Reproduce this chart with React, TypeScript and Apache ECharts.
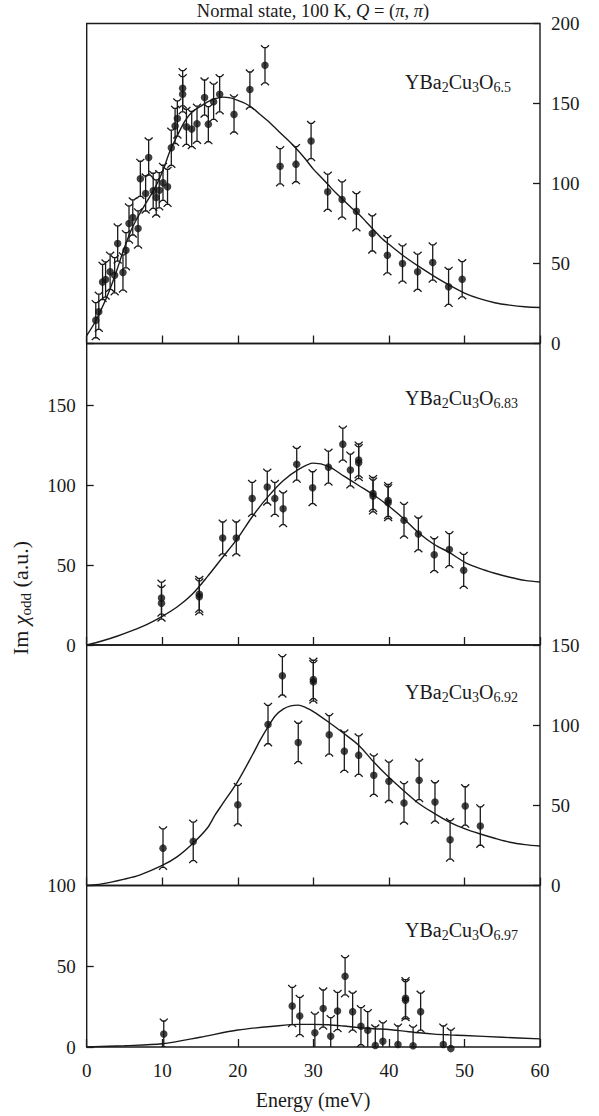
import React, { useEffect, useRef } from "react";
import * as echarts from "echarts";

const SERIF = "'Liberation Serif', 'DejaVu Serif', serif";
const INK = "#1a1a1a";

// Shared energy axis (meV)
const ENERGY_MIN = 0;
const ENERGY_MAX = 60;
const ENERGY_STEP = 10;

// ---------- YBa2Cu3O6.5 ----------
const o65Energy = [1.2, 1.6, 2.1, 2.5, 3.1, 3.7, 4.1, 4.8, 5.2, 5.6, 6.1, 6.8, 7.1, 7.8, 8.2, 8.8, 9.2, 9.6, 10.1, 10.7, 11.2, 11.7, 12.0, 12.7, 12.7, 13.2, 13.9, 14.6, 15.6, 16.1, 16.8, 17.6, 19.5, 21.6, 23.6, 25.6, 27.7, 29.7, 31.9, 33.8, 35.7, 37.8, 39.8, 41.8, 43.8, 45.8, 47.9, 49.7];
const o65Chi = [14.6, 19.8, 38.5, 40.0, 44.8, 42.7, 62.5, 44.4, 58.3, 75.0, 78.8, 71.9, 102.9, 93.8, 116.3, 95.4, 91.3, 95.8, 100.4, 97.9, 122.3, 136.0, 140.6, 155.8, 159.5, 135.4, 134.0, 137.3, 153.7, 137.1, 151.1, 155.8, 143.2, 158.7, 173.9, 110.8, 112.1, 126.6, 94.8, 90.0, 82.7, 68.8, 55.2, 50.0, 44.8, 50.6, 35.4, 40.2];
const o65Err = [11, 11, 11, 11, 11, 11, 11, 11, 11, 11, 11, 11, 11, 11, 11, 11, 11, 11, 11, 11, 11, 11, 11, 11, 11, 11, 11, 11, 11, 11, 11, 11, 11, 11, 11, 11, 11, 11, 11, 11, 11, 11, 11, 11, 11, 11, 11, 11];
const o65Fit = [[0, 5], [1, 12.5], [2, 22], [3, 33], [4, 46], [5, 60], [6, 72], [7, 81], [8, 89], [9, 97], [10, 107], [11, 120], [12, 130], [13, 139], [14, 145], [15, 148], [16, 151], [17, 153], [18, 154], [19, 153.5], [20, 152], [21, 150], [22, 147], [23, 143], [24, 139], [25, 134.5], [26, 130], [27, 125.5], [28, 120.5], [29, 115], [30, 109], [31, 104], [32, 99], [33, 94], [34, 89.5], [35, 85], [36, 81], [37, 76], [38, 71], [39, 66], [40, 62], [42, 54.5], [44, 48], [46, 42], [48, 36.5], [50, 31.5], [52, 28], [54, 25.5], [56, 24], [58, 23], [60, 22.5]];

// ---------- YBa2Cu3O6.83 ----------
const o683Energy = [9.9, 9.9, 14.9, 14.9, 18.0, 19.8, 21.9, 23.9, 24.9, 26.0, 27.8, 29.9, 32.0, 33.9, 34.9, 36.0, 36.0, 37.9, 37.9, 39.9, 39.9, 42.0, 43.9, 46.0, 48.0, 49.9];
const o683Chi = [29.4, 26.2, 31.8, 30.2, 67.1, 67.1, 91.9, 99.0, 91.9, 85.4, 113.3, 98.6, 111.5, 125.9, 109.7, 116.0, 114.3, 95.0, 93.4, 90.6, 89.2, 78.2, 69.6, 56.6, 59.8, 46.8];
const o683Err = [10, 10, 10, 10, 10, 10, 10, 10, 10, 10, 10, 10, 10, 10, 10, 10, 10, 10, 10, 10, 10, 10, 10, 10, 10, 10];
const o683Fit = [[0, 0], [2, 2.5], [4, 5.5], [6, 9], [8, 13], [10, 18], [12, 24], [14, 32], [16, 43], [18, 55], [20, 67], [22, 81], [24, 93], [26, 103], [28, 110], [30, 114], [32, 112], [34, 106], [36, 100], [38, 94], [40, 87], [42, 79], [44, 70], [46, 63], [48, 58], [50, 52], [52, 48], [54, 45], [56, 42.5], [58, 40.5], [60, 39.5]];

// ---------- YBa2Cu3O6.92 ----------
const o692Energy = [10.1, 14.1, 20.0, 24.0, 25.9, 28.0, 30.0, 30.0, 32.1, 34.1, 36.0, 38.0, 40.0, 42.0, 44.0, 46.1, 48.1, 50.1, 52.1];
const o692Chi = [23.3, 27.5, 50.4, 100.4, 130.8, 89.2, 128.5, 127.0, 94.0, 83.8, 81.3, 68.8, 65.0, 51.5, 65.6, 52.1, 28.5, 49.6, 37.1];
const o692Err = [12, 12, 12, 12, 12, 12, 12, 12, 12, 12, 12, 12, 12, 12, 12, 12, 12, 12, 12];
const o692Fit = [[0, 0], [2, 1], [5, 4], [7, 6.5], [10, 12.5], [12, 18], [14, 26], [16, 36], [17, 44], [18, 51], [20, 65], [22, 82], [23, 91], [24, 99], [25, 106], [26, 110], [27, 112], [28, 112.5], [29, 111], [30, 108.5], [32, 102], [34, 95], [36, 87.5], [38, 77], [40, 67.5], [42, 59], [44, 51], [46, 45], [48, 39.6], [50, 35.5], [52, 32.3], [54, 29.5], [56, 27], [58, 25.5], [60, 24.6]];

// ---------- YBa2Cu3O6.97 ----------
const o697Energy = [10.2, 27.2, 28.2, 30.2, 31.3, 32.3, 33.2, 34.2, 35.2, 36.3, 37.2, 38.2, 39.2, 41.2, 42.2, 42.2, 43.2, 44.2, 47.2, 48.2];
const o697Chi = [8.1, 25.4, 19.2, 8.8, 23.8, 6.7, 22.3, 43.8, 21.9, 12.9, 10.4, 1.0, 3.5, 1.5, 30.2, 29.0, 0.8, 21.9, 1.5, -1.0];
const o697Err = [8, 11.5, 11.5, 11.5, 11.5, 11.5, 11.5, 11.5, 11.5, 11.5, 11.5, 11.5, 11.5, 11.5, 11.5, 11.5, 11.5, 11.5, 11.5, 11.5];
const o697Fit = [[0, 0], [5, 0.8], [10, 2], [15, 6], [20, 10.5], [25, 13], [28, 14], [30, 14], [32, 13.8], [34, 13], [36, 12], [38, 11.3], [40, 10.8], [42, 9.8], [44, 8.8], [46, 8], [48, 7.5], [50, 7.1], [55, 6], [60, 5]];

// Oxygen content written as subscript after "O"
const dopings = ["6.5", "6.83", "6.92", "6.97"];

type Panel = {
  doping: string;
  energy: number[];
  chi: number[];
  err: number[];
  fit: number[][];
  yMax: number;
  side: "left" | "right";
  top: number;
  height: number;
  labelY: number;
};

const PLOT_LEFT = 86.7;
const PLOT_WIDTH = 453.3;
const LABEL_X = 405;

const panels: Panel[] = [
  { doping: dopings[0], energy: o65Energy, chi: o65Chi, err: o65Err, fit: o65Fit, yMax: 200, side: "right", top: 23.5, height: 320, labelY: 82 },
  { doping: dopings[1], energy: o683Energy, chi: o683Chi, err: o683Err, fit: o683Fit, yMax: 189, side: "left", top: 343.5, height: 301.5, labelY: 398 },
  { doping: dopings[2], energy: o692Energy, chi: o692Chi, err: o692Err, fit: o692Fit, yMax: 150, side: "right", top: 645, height: 240.5, labelY: 692 },
  { doping: dopings[3], energy: o697Energy, chi: o697Chi, err: o697Err, fit: o697Fit, yMax: 100, side: "left", top: 885.5, height: 161.5, labelY: 930 },
];

// Vertical error bar with small flared caps
function renderErrorBar(_params: any, api: any) {
  const x = api.value(0);
  const y = api.value(1);
  const e = api.value(2);
  const hi = api.coord([x, y + e]);
  const lo = api.coord([x, y - e]);
  const w = 4;
  const c = 2.4;
  const style = { stroke: INK, lineWidth: 1.3, fill: "none" };
  return {
    type: "group",
    children: [
      { type: "line", shape: { x1: hi[0], y1: hi[1], x2: lo[0], y2: lo[1] }, style },
      {
        type: "polyline",
        shape: { points: [[hi[0] - w, hi[1] - c], [hi[0] - 1.5, hi[1]], [hi[0] + 1.5, hi[1]], [hi[0] + w, hi[1] - c]] },
        style,
      },
      {
        type: "polyline",
        shape: { points: [[lo[0] - w, lo[1] + c], [lo[0] - 1.5, lo[1]], [lo[0] + 1.5, lo[1]], [lo[0] + w, lo[1] + c]] },
        style,
      },
    ],
  };
}

const labelFont = { fontFamily: SERIF, fontSize: 19, color: INK };

function buildOption() {
  const grid = panels.map((p) => ({
    left: PLOT_LEFT,
    top: p.top,
    width: PLOT_WIDTH,
    height: p.height,
    show: true,
    borderColor: INK,
    borderWidth: 1.4,
    backgroundColor: "transparent",
  }));

  const xAxis = panels.map((_p, i) => ({
    type: "value",
    gridIndex: i,
    min: ENERGY_MIN,
    max: ENERGY_MAX,
    interval: ENERGY_STEP,
    position: "bottom",
    axisLine: { show: false, onZero: false },
    axisTick: { show: true, inside: true, length: 8, lineStyle: { color: INK, width: 1.3 } },
    axisLabel: { show: i === panels.length - 1, margin: 14, ...labelFont },
    splitLine: { show: false },
  }));

  const yAxis = panels.map((p, i) => ({
    type: "value",
    gridIndex: i,
    position: p.side,
    min: 0,
    max: p.yMax,
    interval: 50,
    axisLine: { show: false, onZero: false },
    axisTick: { show: true, inside: true, length: 7, lineStyle: { color: INK, width: 1.3 } },
    axisLabel: {
      show: true,
      margin: 11,
      ...labelFont,
      formatter: (v: number) => (v % 50 === 0 ? String(v) : ""),
    },
    splitLine: { show: false },
  }));

  const series: any[] = [];
  panels.forEach((p, i) => {
    series.push({
      type: "line",
      xAxisIndex: i,
      yAxisIndex: i,
      data: p.fit,
      smooth: 0.3,
      showSymbol: false,
      silent: true,
      lineStyle: { color: INK, width: 1.4 },
      z: 2,
    });
    series.push({
      type: "custom",
      xAxisIndex: i,
      yAxisIndex: i,
      data: p.energy.map((e, k) => [e, p.chi[k], p.err[k]]),
      encode: { x: 0, y: 1 },
      renderItem: renderErrorBar,
      clip: true,
      silent: true,
      z: 3,
    });
    series.push({
      type: "scatter",
      xAxisIndex: i,
      yAxisIndex: i,
      data: p.energy.map((e, k) => [e, p.chi[k]]),
      symbol: "circle",
      symbolSize: 7.5,
      itemStyle: { color: "#111" },
      clip: false,
      silent: true,
      z: 4,
    });
  });

  const subRich = {
    m: { fontFamily: SERIF, fontSize: 20, lineHeight: 22, fill: INK },
    s: { fontFamily: SERIF, fontSize: 14, lineHeight: 16, padding: [11, 0, 0, 0], fill: INK },
  };

  const graphic: any[] = [
    {
      type: "text",
      x: 313,
      y: 11,
      style: {
        text: "{n|Normal state, 100 K, }{i|Q}{n| = (}{i|π}{n|, }{i|π}{n|)}",
        rich: {
          n: { fontFamily: SERIF, fontSize: 18.5, fill: INK },
          i: { fontFamily: SERIF, fontSize: 18.5, fontStyle: "italic", fill: INK },
        },
        align: "center",
        verticalAlign: "middle",
        textAlign: "center",
        textVerticalAlign: "middle",
      },
    },
    {
      type: "text",
      x: 20,
      y: 598,
      rotation: Math.PI / 2,
      style: {
        text: "{m|Im }{c|χ}{s|odd}{m| (a.u.)}",
        rich: {
          m: { fontFamily: SERIF, fontSize: 22, lineHeight: 24, fill: INK },
          c: { fontFamily: SERIF, fontSize: 22, lineHeight: 24, fontStyle: "italic", fill: INK },
          s: { fontFamily: SERIF, fontSize: 15, lineHeight: 17, padding: [12, 0, 0, 0], fill: INK },
        },
        align: "center",
        verticalAlign: "middle",
        textAlign: "center",
        textVerticalAlign: "middle",
      },
    },
    {
      type: "text",
      x: 313,
      y: 1100,
      style: {
        text: "Energy (meV)",
        fontFamily: SERIF,
        fontSize: 20,
        fill: INK,
        align: "center",
        verticalAlign: "middle",
        textAlign: "center",
        textVerticalAlign: "middle",
      },
    },
    ...panels.map((p) => ({
      type: "text",
      x: LABEL_X,
      y: p.labelY,
      style: {
        text: `{m|YBa}{s|2}{m|Cu}{s|3}{m|O}{s|${p.doping}}`,
        rich: subRich,
        align: "left",
        verticalAlign: "middle",
        textAlign: "left",
        textVerticalAlign: "middle",
      },
    })),
  ];

  return {
    animation: false,
    backgroundColor: "#ffffff",
    grid,
    xAxis,
    yAxis,
    series,
    graphic,
  };
}

export default function App() {
  const ref = useRef<HTMLDivElement>(null);

  useEffect(() => {
    if (!ref.current) return;
    const chart = echarts.init(ref.current, undefined, { renderer: "svg" });
    chart.setOption(buildOption() as any);
    return () => chart.dispose();
  }, []);

  return (
    <div
      ref={ref}
      style={{ position: "absolute", left: 0, top: 0, width: 599, height: 1116, background: "#fff" }}
    />
  );
}
